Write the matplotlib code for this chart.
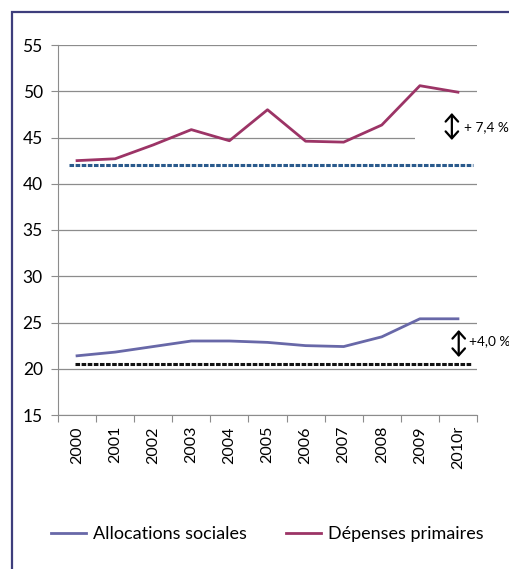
import matplotlib.pyplot as plt
from matplotlib.patches import Rectangle

years = ['2000', '2001', '2002', '2003', '2004', '2005', '2006', '2007', '2008', '2009', '2010r']
allocations = [21.4, 21.8, 22.4, 23.0, 23.0, 22.85, 22.5, 22.4, 23.45, 25.4, 25.4]
depenses = [42.5, 42.7, 44.2, 45.85, 44.65, 48.0, 44.6, 44.5, 46.35, 50.6, 49.9]
ref_depenses = 42.0
ref_allocations = 20.55
label_depenses = '+ 7,4 %'
label_allocations = '+4,0 %'

plt.rcParams['font.family'] = ['Lato', 'DejaVu Sans']

fig = plt.figure(figsize=(5.1, 5.69), dpi=100)
fig.patches.append(Rectangle((12 / 510, -0.1), 1.1, (569 - 12) / 569 + 0.1,
                             transform=fig.transFigure, fill=False,
                             edgecolor='#3e3e7c', linewidth=1.6))

ax = fig.add_axes([58 / 510, 1 - 415 / 569, (477 - 58) / 510, (415 - 45) / 569])
x = range(len(years))

ax.set_ylim(15, 55)
ax.set_xlim(-0.5, len(years) - 0.5)
ax.set_yticks(range(15, 56, 5))
ax.yaxis.grid(True, color='#8c8c8c', linewidth=0.9)
ax.set_axisbelow(True)

# reference levels (dotted)
ax.hlines(ref_depenses, -0.2, 10.4, color='#2a5a8c', linewidth=2.2, linestyles=(0, (1.5, 0.5)))
ax.hlines(ref_allocations, -0.05, 10.35, color='#111111', linewidth=2.2, linestyles=(0, (1.5, 0.5)))

ax.plot(x, allocations, color='#6868a8', linewidth=2, label='Allocations sociales')
ax.plot(x, depenses, color='#9c3466', linewidth=2, label='Dépenses primaires')

# gap arrows
ax.add_patch(Rectangle((8.87, 44.0), 1.7, 3.6, facecolor='white', edgecolor='none', zorder=1.5))
arrow = dict(arrowstyle='<->,head_length=0.5,head_width=0.45', color='black', lw=1.6,
             mutation_scale=10, shrinkA=0, shrinkB=0)
ax.annotate('', xy=(9.84, 44.73), xytext=(9.84, 47.65), arrowprops=arrow)
ax.annotate('', xy=(10.02, 21.27), xytext=(10.02, 24.19), arrowprops=arrow)
ax.text(10.16, 46.15, label_depenses, fontsize=9.8, va='center', ha='left', clip_on=False)
ax.text(10.29, 22.95, label_allocations, fontsize=9.8, va='center', ha='left', clip_on=False)

ax.set_xticks([i - 0.5 for i in range(len(years) + 1)], minor=False)
ax.set_xticklabels([])
ax.set_xticks(list(x), minor=True)
ax.set_xticklabels(years, minor=True, rotation=90, fontsize=11.5)
ax.tick_params(axis='x', which='major', length=5, color='#8c8c8c')
ax.tick_params(axis='x', which='minor', length=0, pad=8)
ax.tick_params(axis='y', length=5, color='#8c8c8c', labelsize=12.5, pad=6)

for side in ['top', 'right']:
    ax.spines[side].set_visible(False)
ax.spines['left'].set_color('#8c8c8c')
ax.spines['bottom'].set_color('#8c8c8c')

ax.legend(loc='center', bbox_to_anchor=(0.5, -0.322), ncol=2, frameon=False,
          fontsize=13, handlelength=1.9, handletextpad=0.4, columnspacing=2.2)

fig.savefig('out.png', dpi=100)
